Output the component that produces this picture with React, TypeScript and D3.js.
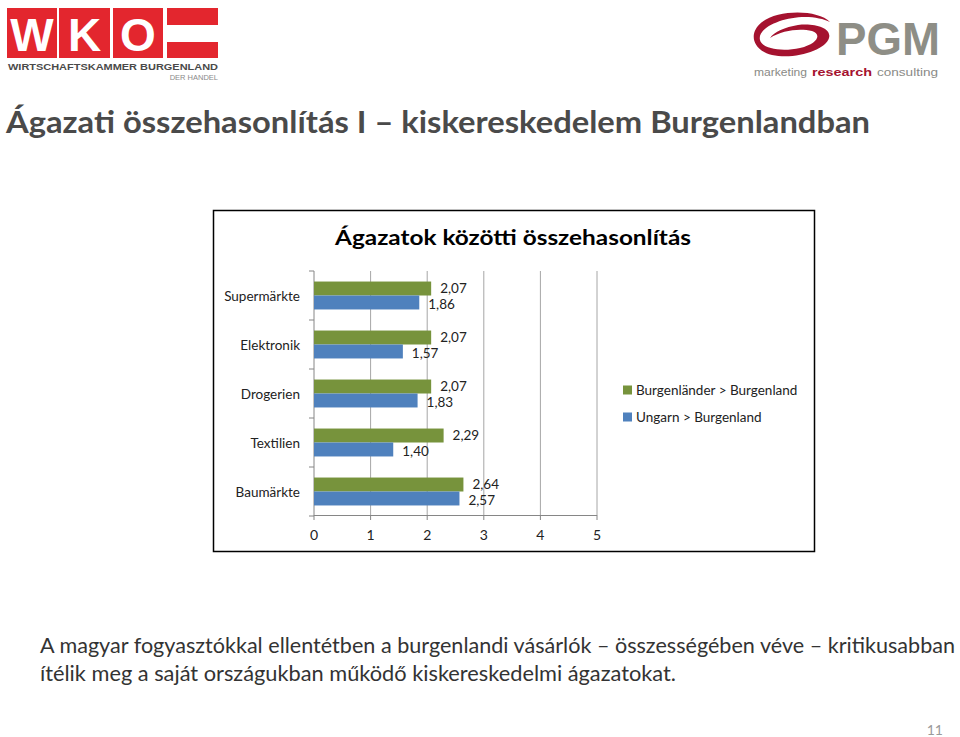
import React from 'react';
import * as d3 from 'd3';

const categories = ['Supermärkte', 'Elektronik', 'Drogerien', 'Textilien', 'Baumärkte'];
const seriesNames = ['Burgenländer > Burgenland', 'Ungarn > Burgenland'];
const seriesColors = ['#77933c', '#4f81bd'];
const burgenlaender = [2.07, 2.07, 2.07, 2.29, 2.64];
const ungarn = [1.86, 1.57, 1.83, 1.4, 2.57];
const xTicks = [0, 1, 2, 3, 4, 5];

const mainTitle = 'Ágazati összehasonlítás I – kiskereskedelem Burgenlandban';
const chartTitle = 'Ágazatok közötti összehasonlítás';
const bodyLines = [
  'A magyar fogyasztókkal ellentétben a burgenlandi vásárlók – összességében véve – kritikusabban',
  'ítélik meg a saját országukban működő kiskereskedelmi ágazatokat.',
];

const W = 960;
const H = 737;
const font = 'Lato, "Open Sans", sans-serif';
const logoFont = '"Liberation Sans", Arial, sans-serif';

const fmt = (v: number) => v.toFixed(2).replace('.', ',');

const App = () => {
  // plot area
  const x = d3.scaleLinear().domain([0, 5]).range([314, 597]);
  const y0 = d3.scaleBand<string>()
    .domain(categories)
    .range([271, 516])
    .paddingInner(0.43)
    .paddingOuter(0.215);
  const y1 = d3.scaleBand<string>().domain(seriesNames).range([0, y0.bandwidth()]);
  const values = [burgenlaender, ungarn];
  const step = y0.step();
  const bounds = d3.range(categories.length + 1).map(i => 271 + i * step);

  return (
    <svg width={W} height={H} style={{ position: 'absolute', left: 0, top: 0, background: '#fff' }}>
      {/* WKO logo */}
      <g>
        {[[7, 57], [59, 110], [113, 163]].map(([a, b], i) => (
          <g key={i}>
            <rect x={a} y={8} width={b - a} height={50} fill="#e3262e" />
            <text x={(a + b) / 2} y={51} textAnchor="middle" fontFamily={logoFont}
              fontWeight="bold" fontSize={46} fill="#fff">{['W', 'K', 'O'][i]}</text>
          </g>
        ))}
        <rect x={167} y={8} width={51} height={17} fill="#e3262e" />
        <rect x={167} y={42} width={51} height={16} fill="#e3262e" />
        <text x={8} y={70} fontFamily={logoFont} fontWeight="bold" fontSize={9.5}
          fill="#4a4a4a" textLength={210} lengthAdjust="spacingAndGlyphs">WIRTSCHAFTSKAMMER BURGENLAND</text>
        <text x={218} y={80} textAnchor="end" fontFamily={logoFont} fontSize={7.5}
          fill="#8a8a8a">DER HANDEL</text>
      </g>

      {/* PGM logo */}
      <g>
        <path d="M830,22 C818,10 780,9 762,22 C748,33 752,50 772,55 C795,60 826,50 829,38 C832,28 815,23 798,25 C785,27 774,32 770,38 C782,30 800,28 812,31 C822,34 818,44 800,48 C782,52 762,49 760,40 C757,28 782,17 805,17 C815,17 824,19 830,22 Z"
          fill="#a5122f" />
        <text x={836} y={55} fontFamily={logoFont} fontWeight="bold" fontSize={46}
          fill="#8e8e86" textLength={104} lengthAdjust="spacingAndGlyphs">PGM</text>
        <text x={754} y={75.5} fontFamily={logoFont} fontSize={11.5} fill="#8a8a86"
          textLength={53} lengthAdjust="spacingAndGlyphs">marketing</text>
        <text x={812} y={75.5} fontFamily={logoFont} fontSize={11.5} fontWeight="bold" fill="#a5122f"
          textLength={60} lengthAdjust="spacingAndGlyphs">research</text>
        <text x={877} y={75.5} fontFamily={logoFont} fontSize={11.5} fill="#8a8a86"
          textLength={61} lengthAdjust="spacingAndGlyphs">consulting</text>
      </g>

      {/* main title */}
      <text x={6} y={133} fontFamily={font} fontWeight="bold" fontSize={31} fill="#4a4a4a"
        textLength={864} lengthAdjust="spacingAndGlyphs">{mainTitle}</text>

      {/* chart frame */}
      <rect x={213.5} y={210.5} width={601} height={341} fill="#fff" stroke="#000" strokeWidth={1.5} />
      <text x={513} y={245} textAnchor="middle" fontFamily={font} fontWeight="bold" fontSize={20} fill="#000"
        textLength={356} lengthAdjust="spacingAndGlyphs">{chartTitle}</text>

      {/* gridlines */}
      {xTicks.slice(1).map(t => (
        <line key={t} x1={x(t)} x2={x(t)} y1={271} y2={516} stroke="#a6a6a6" strokeWidth={1} />
      ))}
      {/* axes */}
      <line x1={x(0)} x2={x(0)} y1={271} y2={516} stroke="#868686" />
      <line x1={x(0)} x2={x(5)} y1={515.5} y2={515.5} stroke="#868686" />
      {bounds.map((b, i) => (
        <line key={i} x1={x(0) - 5} x2={x(0)} y1={b} y2={b} stroke="#868686" />
      ))}
      {xTicks.map(t => (
        <line key={t} x1={x(t)} x2={x(t)} y1={515.5} y2={520} stroke="#868686" />
      ))}
      {xTicks.map(t => (
        <text key={t} x={x(t)} y={534} textAnchor="middle" dominantBaseline="central" fontFamily={font}
          fontSize={14} fill="#222">{t}</text>
      ))}
      {categories.map(c => (
        <text key={c} x={300} y={(y0(c) ?? 0) + y0.bandwidth() / 2} textAnchor="end" dominantBaseline="central"
          fontFamily={font} fontSize={13.5} fill="#222">{c}</text>
      ))}

      {/* bars */}
      {seriesNames.map((s, si) => (
        <g key={s}>
          {categories.map((c, ci) => {
            const yy = (y0(c) ?? 0) + (y1(s) ?? 0);
            const v = values[si][ci];
            return (
              <g key={c}>
                <rect x={x(0)} y={yy} width={x(v) - x(0)} height={y1.bandwidth()} fill={seriesColors[si]} />
                <text x={x(v) + 9} y={yy + y1.bandwidth() / 2 + (si === 0 ? -0.5 : 1.5)} dominantBaseline="central"
                  fontFamily={font} fontSize={13.5} fill="#222">{fmt(v)}</text>
              </g>
            );
          })}
        </g>
      ))}

      {/* legend */}
      {seriesNames.map((s, i) => (
        <g key={s} transform={`translate(623,${390 + i * 27})`}>
          <rect x={0} y={-4.5} width={9} height={9} fill={seriesColors[i]} />
          <text x={13} y={0} dominantBaseline="central" fontFamily={font} fontSize={13.5} fill="#222">{s}</text>
        </g>
      ))}

      {/* body text */}
      <text x={40} y={653} fontFamily={font} fontSize={21} fill="#333" textLength={915}
        lengthAdjust="spacingAndGlyphs">{bodyLines[0]}</text>
      <text x={40} y={681} fontFamily={font} fontSize={21} fill="#333" textLength={636}
        lengthAdjust="spacingAndGlyphs">{bodyLines[1]}</text>

      <text x={943} y={735} textAnchor="end" fontFamily={font} fontSize={14} fill="#9a9a9a">11</text>
    </svg>
  );
};

export default App;
